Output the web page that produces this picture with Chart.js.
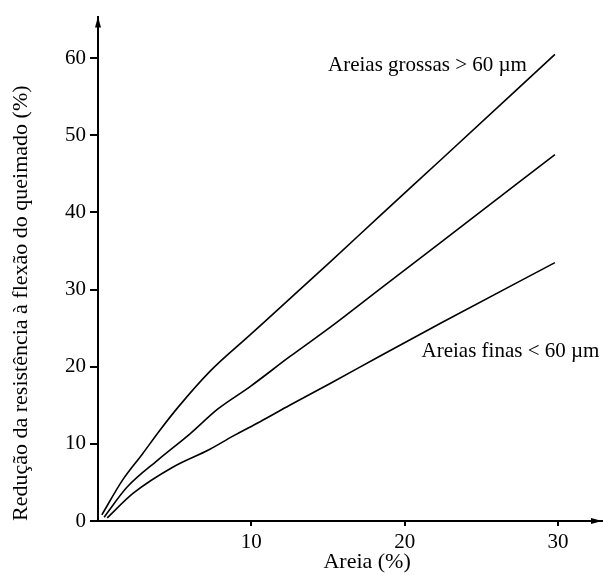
<!DOCTYPE html>
<html>
<head>
<meta charset="utf-8">
<script src="https://cdn.jsdelivr.net/npm/chart.js@4.4.1/dist/chart.umd.min.js"></script>
<style>
  html, body { margin: 0; padding: 0; background: #fff; }
  #wrap { width: 603px; height: 575px; }
</style>
</head>
<body>
<div id="wrap"><canvas id="sandChart"></canvas></div>
<script>
// --- DADOS ---
const coarseX = [0.25, 1.6, 2.9, 4.05, 5.2, 7.3, 9.9, 12.5, 15.2, 18.4, 22.4, 29.8];
const coarseY = [0.8, 5.3, 8.7, 11.8, 14.7, 19.4, 24.1, 28.8, 33.7, 39.6, 46.9, 60.5];

const midX = [0.4, 1.9, 3.9, 6.0, 7.8, 9.9, 12.5, 15.2, 18.4, 22.4, 29.8];
const midY = [0.5, 4.4, 7.9, 11.3, 14.5, 17.4, 21.3, 25.2, 30.1, 36.2, 47.5];

const fineX = [0.6, 2.3, 4.9, 7.3, 8.8, 10.6, 12.5, 15.2, 18.4, 22.4, 29.8];
const fineY = [0.4, 3.6, 7.0, 9.3, 11.0, 12.9, 15.0, 17.9, 21.4, 25.7, 33.5];

const xTicks = [10, 20, 30];
const yTicks = [0, 10, 20, 30, 40, 50, 60];

const xTitle = 'Areia (%)';
const notes = [
    { text: 'Areias grossas > 60 \u00b5m', x: 15.0, y: 59.1 },
    { text: 'Areias finas < 60 \u00b5m', x: 21.1, y: 22.0 }
];

const serif = "'Liberation Serif', 'Times New Roman', serif";
Chart.defaults.font.family = serif;
Chart.defaults.color = '#000';

function toPoints(xs, ys) {
    return xs.map((x, i) => ({ x: x, y: ys[i] }));
}

function lineSet(label, xs, ys) {
    return {
        label: label,
        data: toPoints(xs, ys),
        borderColor: '#000',
        borderWidth: 1.6,
        pointRadius: 0,
        fill: false,
        cubicInterpolationMode: 'monotone'
    };
}

// setas dos eixos + textos
const extrasPlugin = {
    id: 'extras',
    afterDraw(chart) {
        const ctx = chart.ctx;
        const a = chart.chartArea;
        ctx.save();
        ctx.fillStyle = '#000';
        // seta y
        ctx.beginPath();
        ctx.moveTo(a.left, a.top);
        ctx.lineTo(a.left - 3, a.top + 11);
        ctx.lineTo(a.left + 3, a.top + 11);
        ctx.closePath();
        ctx.fill();
        // seta x
        ctx.beginPath();
        ctx.moveTo(a.right, a.bottom);
        ctx.lineTo(a.right - 11, a.bottom - 3);
        ctx.lineTo(a.right - 11, a.bottom + 3);
        ctx.closePath();
        ctx.fill();

        ctx.font = '21px ' + serif;
        ctx.textBaseline = 'middle';
        ctx.textAlign = 'left';
        const xs = chart.scales.x, ys = chart.scales.y;
        notes.forEach(n => {
            ctx.fillText(n.text, xs.getPixelForValue(n.x), ys.getPixelForValue(n.y));
        });

        // título do eixo x (um pouco deslocado à direita no original)
        ctx.font = '22px ' + serif;
        ctx.textAlign = 'center';
        ctx.fillText(xTitle, xs.getPixelForValue(17.55), 562);
        ctx.restore();
    }
};

const ctx = document.getElementById('sandChart').getContext('2d');
new Chart(ctx, {
    type: 'line',
    data: {
        datasets: [
            lineSet('Areias grossas', coarseX, coarseY),
            lineSet('Intermédia', midX, midY),
            lineSet('Areias finas', fineX, fineY)
        ]
    },
    options: {
        responsive: true,
        maintainAspectRatio: false,
        animation: false,
        layout: { padding: { top: 12, right: 1, left: 0, bottom: 0 } },
        plugins: { legend: { display: false }, tooltip: { enabled: false } },
        scales: {
            x: {
                type: 'linear',
                min: 0,
                max: 32.87,
                afterBuildTicks: s => { s.ticks = xTicks.map(v => ({ value: v })); },
                afterFit: s => { s.height = 54; },
                grid: { drawOnChartArea: false, color: '#000', lineWidth: 2, tickLength: 5 },
                border: { color: '#000', width: 2 },
                ticks: { font: { size: 21 }, padding: 4, maxRotation: 0 }
            },
            y: {
                min: 0,
                max: 65.4,
                afterBuildTicks: s => { s.ticks = yTicks.map(v => ({ value: v })); },
                afterFit: s => { s.width = 98; },
                grid: { drawOnChartArea: false, color: '#000', lineWidth: 2, tickLength: 8 },
                border: { color: '#000', width: 2 },
                ticks: { font: { size: 21 }, padding: 4 },
                title: {
                    display: true,
                    text: 'Redução da resistência à flexão do queimado (%)',
                    font: { size: 22 },
                    align: 'start',
                    padding: { top: 8, bottom: 0 }
                }
            }
        }
    },
    plugins: [extrasPlugin]
});
</script>
</body>
</html>
